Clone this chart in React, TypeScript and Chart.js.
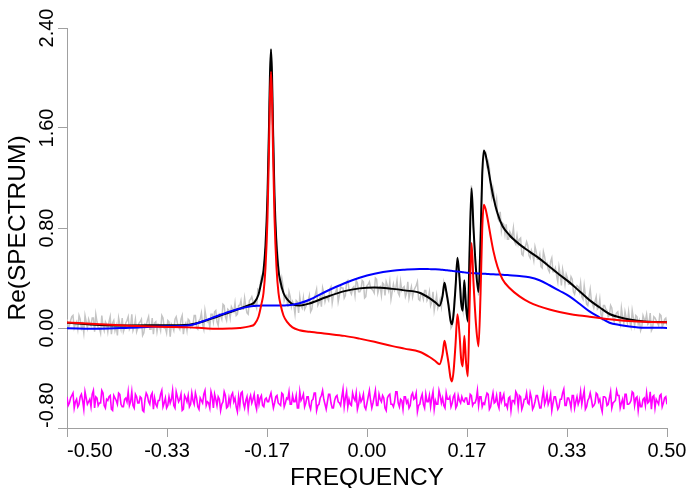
import React, { useEffect, useRef } from 'react';
import { Chart, registerables } from 'chart.js';

Chart.register(...registerables);

// ---- fitted components (sampled frequencies) ----
const fitFreq = [
  -0.5, -0.4458, -0.3958, -0.3458, -0.2958, -0.2708, -0.2508, -0.2292, -0.2125, -0.1958,
  -0.1875, -0.1808, -0.1758, -0.1725, -0.1692, -0.1658, -0.1633, -0.1617, -0.16, -0.1583,
  -0.1567, -0.1542, -0.1508, -0.1475, -0.1442, -0.1392, -0.1325, -0.1242, -0.1125, -0.0958,
  -0.0675, -0.0375, -0.0125, 0.0125, 0.0425, 0.0625, 0.0875, 0.1042, 0.1142, 0.1208,
  0.1258, 0.1292, 0.1325, 0.1358, 0.1392, 0.1417, 0.1442, 0.1475, 0.1508, 0.1542,
  0.157, 0.1595, 0.1622, 0.165, 0.168, 0.1708, 0.1742, 0.1775, 0.1817, 0.1858,
  0.1892, 0.192, 0.1947, 0.1975, 0.2013, 0.2058, 0.2108, 0.2175, 0.2258, 0.2375,
  0.2542, 0.2708, 0.2875, 0.3042, 0.3208, 0.3375, 0.3542, 0.3708, 0.3875, 0.4042,
  0.4208, 0.4375, 0.4625, 0.5,
];

const peakComponent = [
  0.045, 0.030, 0.018, 0.010, 0.005, -0.002, -0.006, -0.004, 0.000, 0.013,
  0.030, 0.090, 0.195, 0.28, 0.48, 0.89, 1.44, 1.85, 2.05, 1.85,
  1.44, 0.89, 0.48, 0.28, 0.19, 0.10, 0.045, 0.005, -0.018, -0.030,
  -0.046, -0.063, -0.085, -0.110, -0.145, -0.165, -0.190, -0.232, -0.266, -0.290,
  -0.214, -0.102, -0.182, -0.278, -0.398, -0.427, -0.350, -0.134, 0.110, -0.050,
  -0.254, -0.307, -0.062, -0.270, -0.387, 0.146, 0.680, 0.362, 0.026, -0.147,
  0.266, 0.786, 0.986, 0.954, 0.866, 0.740, 0.613, 0.490, 0.390, 0.320,
  0.253, 0.205, 0.173, 0.148, 0.128, 0.112, 0.100, 0.090, 0.080, 0.070,
  0.062, 0.056, 0.050, 0.045,
];

const broadComponent = [
  -0.002, -0.006, 0.002, 0.012, 0.022, 0.058, 0.094, 0.130, 0.154, 0.172,
  0.176, 0.178, 0.180, 0.180, 0.180, 0.180, 0.180, 0.180, 0.180, 0.180,
  0.180, 0.180, 0.180, 0.180, 0.180, 0.180, 0.182, 0.186, 0.198, 0.226,
  0.294, 0.358, 0.402, 0.434, 0.458, 0.466, 0.472, 0.471, 0.470, 0.468,
  0.466, 0.464, 0.462, 0.460, 0.458, 0.457, 0.455, 0.454, 0.452, 0.450,
  0.448, 0.446, 0.445, 0.443, 0.442, 0.440, 0.439, 0.438, 0.438, 0.436,
  0.435, 0.434, 0.434, 0.434, 0.432, 0.430, 0.430, 0.428, 0.426, 0.422,
  0.416, 0.406, 0.382, 0.342, 0.298, 0.253, 0.194, 0.133, 0.086, 0.042,
  0.024, 0.012, 0.002, 0.001,
];

const totalFit = [
  0.043, 0.024, 0.020, 0.022, 0.027, 0.056, 0.088, 0.126, 0.154, 0.185,
  0.206, 0.268, 0.375, 0.46, 0.66, 1.07, 1.62, 2.03, 2.23, 2.03,
  1.62, 1.07, 0.66, 0.46, 0.37, 0.28, 0.227, 0.191, 0.180, 0.196,
  0.248, 0.295, 0.317, 0.324, 0.313, 0.301, 0.282, 0.239, 0.204, 0.178,
  0.252, 0.362, 0.280, 0.182, 0.060, 0.030, 0.105, 0.320, 0.562, 0.400,
  0.194, 0.139, 0.383, 0.173, 0.055, 0.586, 1.119, 0.800, 0.464, 0.289,
  0.701, 1.220, 1.420, 1.388, 1.298, 1.170, 1.043, 0.918, 0.816, 0.742,
  0.669, 0.611, 0.555, 0.490, 0.426, 0.365, 0.294, 0.223, 0.166, 0.112,
  0.086, 0.068, 0.052, 0.046,
];

// ---- observed spectrum and residuals (regular frequency grid) ----
const obsStart = -0.5;
const obsStep = 0.002;

const observed = [
  0.07, 0.00, 0.02, 0.06, 0.09, 0.10, 0.00, 0.03, 0.05, -0.01,
  0.10, 0.07, 0.00, 0.03, -0.04, 0.10, 0.05, 0.00, 0.07, 0.04,
  0.02, 0.08, 0.08, -0.03, 0.11, 0.05, 0.00, 0.00, -0.04, 0.10,
  0.02, -0.02, 0.05, 0.03, -0.03, 0.05, 0.09, -0.05, 0.04, 0.06,
  -0.02, 0.02, -0.06, 0.08, 0.03, -0.01, 0.08, -0.03, 0.00, 0.04,
  0.06, 0.09, -0.01, 0.01, 0.11, -0.02, 0.01, 0.07, -0.03, 0.00,
  0.04, 0.05, 0.07, -0.06, -0.04, 0.03, 0.02, 0.06, 0.09, -0.01,
  -0.01, 0.08, -0.05, 0.04, 0.05, -0.03, 0.03, 0.02, -0.02, 0.10,
  0.08, 0.00, 0.00, -0.04, 0.06, 0.05, -0.07, 0.03, 0.01, -0.02,
  0.07, 0.09, 0.04, 0.01, -0.01, 0.07, 0.10, -0.05, 0.02, 0.04,
  -0.02, 0.07, 0.06, 0.00, 0.01, 0.03, 0.10, 0.10, 0.00, -0.01,
  0.06, 0.07, 0.12, 0.03, -0.01, 0.14, 0.08, 0.05, 0.06, 0.01,
  0.11, 0.11, 0.05, 0.13, 0.14, 0.05, 0.02, 0.11, 0.10, 0.07,
  0.19, 0.18, 0.09, 0.06, 0.15, 0.14, 0.08, 0.17, 0.15, 0.13,
  0.20, 0.10, 0.11, 0.18, 0.18, 0.22, 0.15, 0.15, 0.24, 0.17,
  0.12, 0.11, 0.22, 0.23, 0.25, 0.21, 0.18, 0.19, 0.16, 0.31,
  0.30, 0.35, 0.41, 0.38, 0.43, 0.62, 0.65, 1.04, 1.45, 1.98,
  2.23, 1.95, 1.49, 1.03, 0.76, 0.66, 0.55, 0.39, 0.34, 0.40,
  0.34, 0.22, 0.25, 0.26, 0.17, 0.29, 0.25, 0.17, 0.21, 0.18,
  0.11, 0.22, 0.21, 0.12, 0.25, 0.18, 0.16, 0.24, 0.15, 0.17,
  0.20, 0.22, 0.26, 0.13, 0.15, 0.22, 0.24, 0.27, 0.31, 0.18,
  0.20, 0.25, 0.17, 0.32, 0.28, 0.21, 0.25, 0.24, 0.22, 0.31,
  0.33, 0.20, 0.26, 0.27, 0.29, 0.32, 0.21, 0.26, 0.33, 0.32,
  0.32, 0.24, 0.26, 0.37, 0.38, 0.31, 0.29, 0.27, 0.32, 0.33,
  0.26, 0.38, 0.36, 0.29, 0.29, 0.31, 0.38, 0.37, 0.24, 0.25,
  0.34, 0.35, 0.37, 0.32, 0.31, 0.30, 0.28, 0.40, 0.39, 0.28,
  0.32, 0.33, 0.26, 0.36, 0.35, 0.26, 0.37, 0.34, 0.30, 0.37,
  0.23, 0.29, 0.35, 0.30, 0.32, 0.38, 0.28, 0.26, 0.37, 0.30,
  0.32, 0.33, 0.25, 0.28, 0.37, 0.24, 0.29, 0.33, 0.25, 0.30,
  0.32, 0.34, 0.37, 0.23, 0.22, 0.28, 0.27, 0.23, 0.30, 0.30,
  0.22, 0.24, 0.29, 0.18, 0.21, 0.29, 0.14, 0.20, 0.26, 0.16,
  0.19, 0.23, 0.17, 0.28, 0.36, 0.30, 0.30, 0.26, 0.20, 0.13,
  0.00, 0.02, 0.14, 0.26, 0.37, 0.49, 0.49, 0.41, 0.31, 0.20,
  0.14, 0.37, 0.26, 0.14, 0.04, 0.40, 0.83, 1.14, 0.91, 0.74,
  0.58, 0.46, 0.42, 0.26, 0.40, 0.88, 1.24, 1.35, 1.39, 1.40,
  1.30, 1.33, 1.28, 1.12, 1.05, 1.12, 1.06, 0.97, 1.03, 0.88,
  0.86, 0.93, 0.78, 0.84, 0.83, 0.75, 0.83, 0.71, 0.71, 0.77,
  0.75, 0.73, 0.80, 0.69, 0.67, 0.74, 0.67, 0.71, 0.72, 0.59,
  0.58, 0.65, 0.65, 0.69, 0.66, 0.58, 0.56, 0.62, 0.59, 0.54,
  0.65, 0.61, 0.55, 0.55, 0.59, 0.49, 0.48, 0.61, 0.57, 0.51,
  0.52, 0.47, 0.45, 0.53, 0.56, 0.45, 0.45, 0.48, 0.42, 0.37,
  0.49, 0.43, 0.34, 0.47, 0.42, 0.35, 0.43, 0.40, 0.35, 0.35,
  0.41, 0.39, 0.29, 0.27, 0.32, 0.34, 0.33, 0.29, 0.36, 0.25,
  0.23, 0.34, 0.26, 0.19, 0.18, 0.25, 0.31, 0.22, 0.19, 0.16,
  0.21, 0.25, 0.15, 0.16, 0.23, 0.11, 0.08, 0.18, 0.18, 0.15,
  0.14, 0.09, 0.10, 0.18, 0.16, 0.08, 0.05, 0.10, 0.12, 0.13,
  0.07, 0.03, 0.16, 0.09, 0.04, 0.13, 0.08, 0.04, 0.13, 0.05,
  0.01, 0.14, 0.08, 0.02, 0.10, 0.09, 0.03, 0.06, -0.02, 0.01,
  0.10, 0.07, 0.06, 0.11, 0.03, 0.04, 0.12, -0.02, 0.00, 0.09,
  0.08, 0.06, 0.04, 0.02, 0.11, 0.10, 0.01, 0.03, 0.07, 0.08,
  0.02,
];

const residual = [
  -0.55, -0.62, -0.60, -0.56, -0.54, -0.52, -0.64, -0.59, -0.57, -0.63,
  -0.61, -0.55, -0.53, -0.58, -0.65, -0.51, -0.56, -0.61, -0.59, -0.57,
  -0.63, -0.53, -0.50, -0.64, -0.55, -0.56, -0.62, -0.60, -0.60, -0.50,
  -0.52, -0.62, -0.64, -0.57, -0.58, -0.55, -0.54, -0.65, -0.66, -0.54,
  -0.56, -0.58, -0.61, -0.52, -0.53, -0.61, -0.63, -0.63, -0.57, -0.56,
  -0.59, -0.51, -0.62, -0.59, -0.51, -0.62, -0.64, -0.53, -0.55, -0.60,
  -0.60, -0.55, -0.56, -0.66, -0.67, -0.57, -0.52, -0.54, -0.59, -0.61,
  -0.54, -0.52, -0.65, -0.56, -0.61, -0.63, -0.58, -0.58, -0.53, -0.50,
  -0.63, -0.60, -0.56, -0.64, -0.62, -0.55, -0.60, -0.57, -0.50, -0.62,
  -0.64, -0.51, -0.55, -0.59, -0.57, -0.53, -0.66, -0.65, -0.54, -0.56,
  -0.59, -0.54, -0.63, -0.61, -0.52, -0.58, -0.61, -0.52, -0.56, -0.63,
  -0.65, -0.56, -0.58, -0.60, -0.53, -0.50, -0.62, -0.59, -0.60, -0.64,
  -0.51, -0.55, -0.64, -0.53, -0.57, -0.62, -0.55, -0.57, -0.66, -0.61,
  -0.59, -0.51, -0.54, -0.64, -0.63, -0.56, -0.61, -0.54, -0.52, -0.59,
  -0.56, -0.63, -0.67, -0.55, -0.62, -0.52, -0.51, -0.60, -0.64, -0.58,
  -0.55, -0.65, -0.57, -0.54, -0.60, -0.57, -0.53, -0.61, -0.65, -0.53,
  -0.61, -0.56, -0.54, -0.62, -0.63, -0.57, -0.56, -0.59, -0.59, -0.55,
  -0.52, -0.58, -0.64, -0.60, -0.55, -0.54, -0.60, -0.61, -0.62, -0.52,
  -0.53, -0.63, -0.60, -0.56, -0.57, -0.51, -0.61, -0.61, -0.54, -0.59,
  -0.59, -0.54, -0.64, -0.64, -0.51, -0.58, -0.56, -0.53, -0.63, -0.60,
  -0.55, -0.55, -0.62, -0.65, -0.58, -0.57, -0.52, -0.52, -0.66, -0.62,
  -0.61, -0.56, -0.54, -0.50, -0.57, -0.61, -0.65, -0.59, -0.53, -0.53,
  -0.60, -0.64, -0.64, -0.58, -0.55, -0.54, -0.59, -0.60, -0.62, -0.55,
  -0.49, -0.63, -0.56, -0.51, -0.63, -0.57, -0.61, -0.62, -0.52, -0.56,
  -0.58, -0.52, -0.65, -0.61, -0.54, -0.59, -0.57, -0.53, -0.63, -0.65,
  -0.60, -0.55, -0.50, -0.58, -0.64, -0.60, -0.55, -0.50, -0.62, -0.62,
  -0.53, -0.57, -0.59, -0.54, -0.56, -0.64, -0.66, -0.56, -0.54, -0.53,
  -0.61, -0.61, -0.63, -0.59, -0.51, -0.51, -0.60, -0.63, -0.57, -0.58,
  -0.65, -0.55, -0.55, -0.60, -0.58, -0.64, -0.62, -0.54, -0.52, -0.57,
  -0.56, -0.52, -0.67, -0.62, -0.61, -0.56, -0.53, -0.61, -0.64, -0.53,
  -0.59, -0.59, -0.54, -0.63, -0.56, -0.51, -0.65, -0.58, -0.61, -0.61,
  -0.50, -0.54, -0.60, -0.56, -0.62, -0.64, -0.52, -0.57, -0.57, -0.55,
  -0.63, -0.60, -0.55, -0.53, -0.64, -0.62, -0.54, -0.58, -0.60, -0.55,
  -0.58, -0.59, -0.56, -0.56, -0.61, -0.61, -0.53, -0.54, -0.62, -0.60,
  -0.60, -0.57, -0.50, -0.62, -0.55, -0.55, -0.63, -0.60, -0.61, -0.56,
  -0.52, -0.53, -0.65, -0.63, -0.57, -0.52, -0.60, -0.59, -0.54, -0.61,
  -0.64, -0.51, -0.59, -0.56, -0.53, -0.62, -0.61, -0.64, -0.56, -0.55,
  -0.66, -0.58, -0.58, -0.60, -0.51, -0.53, -0.63, -0.54, -0.55, -0.65,
  -0.62, -0.57, -0.57, -0.52, -0.60, -0.61, -0.52, -0.56, -0.65, -0.63,
  -0.59, -0.54, -0.54, -0.59, -0.64, -0.64, -0.56, -0.50, -0.61, -0.58,
  -0.53, -0.61, -0.58, -0.53, -0.66, -0.60, -0.55, -0.55, -0.60, -0.65,
  -0.63, -0.57, -0.57, -0.52, -0.49, -0.62, -0.62, -0.56, -0.56, -0.59,
  -0.64, -0.54, -0.54, -0.64, -0.59, -0.55, -0.61, -0.58, -0.51, -0.61,
  -0.55, -0.50, -0.65, -0.63, -0.58, -0.56, -0.52, -0.57, -0.63, -0.62,
  -0.60, -0.52, -0.53, -0.59, -0.57, -0.63, -0.67, -0.55, -0.55, -0.56,
  -0.62, -0.61, -0.56, -0.51, -0.64, -0.60, -0.59, -0.58, -0.50, -0.54,
  -0.54, -0.64, -0.60, -0.57, -0.65, -0.53, -0.53, -0.61, -0.61, -0.60,
  -0.58, -0.51, -0.52, -0.62, -0.56, -0.55, -0.66, -0.58, -0.63, -0.63,
  -0.57, -0.56, -0.62, -0.52, -0.60, -0.59, -0.51, -0.65, -0.55, -0.54,
  -0.64, -0.57, -0.59, -0.61, -0.54, -0.53, -0.63, -0.60, -0.56, -0.55,
  -0.61,
];

// ---- axes ----
const xMin = -0.5;
const xMax = 0.5;
const yMin = -0.8;
const yMax = 2.4;
const xTickValues = [-0.5, -1 / 3, -1 / 6, 0, 1 / 6, 1 / 3, 0.5];
const xTickLabels = ['-0.50', '-0.33', '-0.17', '0.00', '0.17', '0.33', '0.50'];
const yTickValues = [-0.8, 0, 0.8, 1.6, 2.4];
const yTickLabels = ['-0.80', '0.00', '0.80', '1.60', '2.40'];
const xTitle = 'FREQUENCY';
const yTitle = 'Re(SPECTRUM)';

const FONT = '"Liberation Sans", Arial, Helvetica, sans-serif';
const AXIS_COLOR = '#a0a0a0';

function pairs(xs: number[], ys: number[]) {
  return ys.map((y, i) => ({ x: xs[i], y }));
}
function gridPairs(ys: number[]) {
  return ys.map((y, i) => ({ x: obsStart + i * obsStep, y }));
}

const textPlugin = {
  id: 'axisText',
  afterDraw(chart: any) {
    const ctx = chart.ctx as CanvasRenderingContext2D;
    const xs = chart.scales.x;
    const ys = chart.scales.y;
    ctx.save();
    ctx.fillStyle = '#000';
    ctx.textBaseline = 'alphabetic';
    ctx.font = `20px ${FONT}`;
    xTickValues.forEach((v, i) => {
      const label = xTickLabels[i];
      const w = ctx.measureText(label).width;
      let px = xs.getPixelForValue(v);
      if (i === 0) px += w / 2;
      ctx.textAlign = 'center';
      ctx.fillText(label, px, 457);
    });
    yTickValues.forEach((v, i) => {
      const label = yTickLabels[i];
      const w = ctx.measureText(label).width;
      let py = ys.getPixelForValue(v);
      if (i === 0) py -= w / 2;
      ctx.save();
      ctx.translate(53, py);
      ctx.rotate(-Math.PI / 2);
      ctx.textAlign = 'center';
      ctx.fillText(label, 0, 0);
      ctx.restore();
    });
    ctx.font = `24.5px ${FONT}`;
    ctx.textAlign = 'center';
    const ca = chart.chartArea;
    ctx.fillText(xTitle, (ca.left + ca.right) / 2, 485);
    ctx.save();
    ctx.translate(25, (ca.top + ca.bottom) / 2);
    ctx.rotate(-Math.PI / 2);
    ctx.fillText(yTitle, 0, 0);
    ctx.restore();
    ctx.restore();
  },
};

export default function App() {
  const canvasRef = useRef<HTMLCanvasElement | null>(null);

  useEffect(() => {
    document.body.style.margin = '0';
    const canvas = canvasRef.current;
    if (!canvas) return;
    const smooth = {
      cubicInterpolationMode: 'monotone',
      borderJoinStyle: 'round',
      borderCapStyle: 'round',
    };
    const chart = new Chart(canvas, {
      type: 'line',
      data: {
        datasets: [
          {
            label: 'fit',
            data: pairs(fitFreq, totalFit),
            borderColor: '#000000',
            borderWidth: 2,
            order: 3,
            ...smooth,
          },
          {
            label: 'broad',
            data: pairs(fitFreq, broadComponent),
            borderColor: '#0000ff',
            borderWidth: 2,
            order: 2,
            ...smooth,
          },
          {
            label: 'peaks',
            data: pairs(fitFreq, peakComponent),
            borderColor: '#ff0000',
            borderWidth: 2,
            order: 1,
            ...smooth,
          },
          {
            label: 'observed',
            data: gridPairs(observed),
            borderColor: '#c4c4c4',
            borderWidth: 1.5,
            order: 5,
          },
          {
            label: 'residual',
            data: gridPairs(residual),
            borderColor: '#ff00ff',
            borderWidth: 1.6,
            order: 4,
          },
        ] as any,
      },
      options: {
        animation: false,
        responsive: false,
        devicePixelRatio: 1,
        elements: {
          point: { radius: 0, hoverRadius: 0 },
          line: { tension: 0, fill: false },
        },
        layout: { padding: { left: 0, right: 22, top: 28, bottom: 0 } },
        plugins: {
          legend: { display: false },
          tooltip: { enabled: false },
          title: { display: false },
        },
        events: [],
        scales: {
          x: {
            type: 'linear',
            min: xMin,
            max: xMax,
            afterBuildTicks: (s: any) => {
              s.ticks = xTickValues.map((v) => ({ value: v }));
            },
            afterFit: (s: any) => {
              s.height = 60;
            },
            ticks: { display: false },
            grid: {
              display: true,
              drawOnChartArea: false,
              drawTicks: true,
              tickLength: 9,
              color: AXIS_COLOR,
            },
            border: { display: true, color: AXIS_COLOR, width: 1 },
          },
          y: {
            type: 'linear',
            min: yMin,
            max: yMax,
            afterBuildTicks: (s: any) => {
              s.ticks = yTickValues.map((v) => ({ value: v }));
            },
            afterFit: (s: any) => {
              s.width = 67;
            },
            ticks: { display: false },
            grid: {
              display: true,
              drawOnChartArea: false,
              drawTicks: true,
              tickLength: 9,
              color: AXIS_COLOR,
            },
            border: { display: true, color: AXIS_COLOR, width: 1 },
          },
        },
      } as any,
      plugins: [textPlugin],
    });
    return () => chart.destroy();
  }, []);

  return (
    <div style={{ position: 'absolute', left: 0, top: 0 }}>
      <canvas ref={canvasRef} width={689} height={488} style={{ display: 'block' }} />
    </div>
  );
}
